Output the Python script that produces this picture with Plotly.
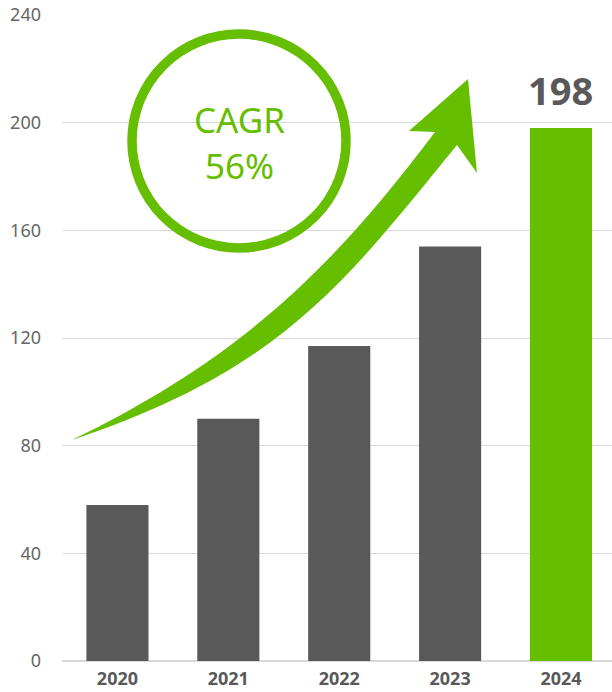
import plotly.graph_objects as go

years = ["2020", "2021", "2022", "2023", "2024"]
values = [58, 90, 117, 154, 198]
bar_colors = ["#595959", "#595959", "#595959", "#595959", "#66BE00"]
y_ticks = [0, 40, 80, 120, 160, 200, 240]
cagr_text = ["CAGR", "56%"]
highlight_label = "198"

GREEN = "#66BE00"
W, H = 612, 692
ML, MR, MT, MB = 62, 0, 15, 31
PW, PH = W - ML - MR, H - MT - MB


def px(x, y):
    return (x - ML) / PW, (H - MB - y) / PH


def pt(x, y):
    a, b = px(x, y)
    return f"{a:.5f},{b:.5f}"


fig = go.Figure()
fig.add_trace(go.Bar(
    x=list(range(len(years))), y=values,
    marker=dict(color=bar_colors, line=dict(width=0)),
    hoverinfo="skip",
))

# curved arrow (decoration) in pixel positions converted to paper
tail = (72, 440)
p1, p2 = (234, 361), (327, 276)
lnotch = (435, 132)
lbarb = (409, 131)
tip = (468, 79)
rbarb = (477, 173)
rnotch = (457, 145)
q1, q2 = (343, 285), (281, 370)
path = (f"M {pt(*tail)} C {pt(*p1)} {pt(*p2)} {pt(*lnotch)} "
        f"L {pt(*lbarb)} L {pt(*tip)} L {pt(*rbarb)} L {pt(*rnotch)} "
        f"C {pt(*q1)} {pt(*q2)} {pt(*tail)} Z")
fig.add_shape(type="path", path=path, xref="paper", yref="paper",
              fillcolor=GREEN, line=dict(width=0), layer="above")

# circle
cx, cy, r = 239, 141, 107
x0, y1 = px(cx - r, cy - r)
x1, y0 = px(cx + r, cy + r)
fig.add_shape(type="circle", xref="paper", yref="paper",
              x0=x0, x1=x1, y0=y0, y1=y1,
              line=dict(color=GREEN, width=9.5), fillcolor="rgba(0,0,0,0)")

ax, ay = px(cx, 143)
fig.add_annotation(x=ax, y=ay, xref="paper", yref="paper", text="<br>".join(cagr_text),
                   showarrow=False, xanchor="center", yanchor="middle",
                   font=dict(family="Noto Sans", size=35, color=GREEN))

fig.add_annotation(x=4, y=values[4], xref="x", yref="y", text=f"<b>{highlight_label}</b>",
                   showarrow=False, xanchor="center", yanchor="bottom", yshift=10,
                   font=dict(family="Noto Sans", size=38, color="#595959"))

fig.update_layout(
    width=W, height=H,
    margin=dict(l=ML, r=MR, t=MT, b=MB, pad=0, autoexpand=False),
    paper_bgcolor="white", plot_bgcolor="white",
    showlegend=False, bargap=0.44,
    font=dict(family="Noto Sans"),
)
fig.update_xaxes(
    range=[-0.5, 4.46], tickmode="array", tickvals=list(range(len(years))),
    ticktext=[f"<b>{y}</b>" for y in years],
    tickfont=dict(family="Noto Sans", size=18, color="#595959"),
    showgrid=False, zeroline=False, showline=False, ticks="",
    ticklabelstandoff=5, automargin=False,
)
fig.update_yaxes(
    range=[0, 240], tickvals=y_ticks,
    tickfont=dict(family="Noto Sans", size=18, color="#666666"),
    showgrid=True, gridcolor="#D9D9D9", gridwidth=1,
    zeroline=True, zerolinecolor="#D9D9D9", zerolinewidth=2,
    showline=False, ticks="", ticklabelstandoff=20, automargin=False,
)

fig.write_html("out.html", config={"displayModeBar": False},
               post_script="document.body.style.margin='0px';")
